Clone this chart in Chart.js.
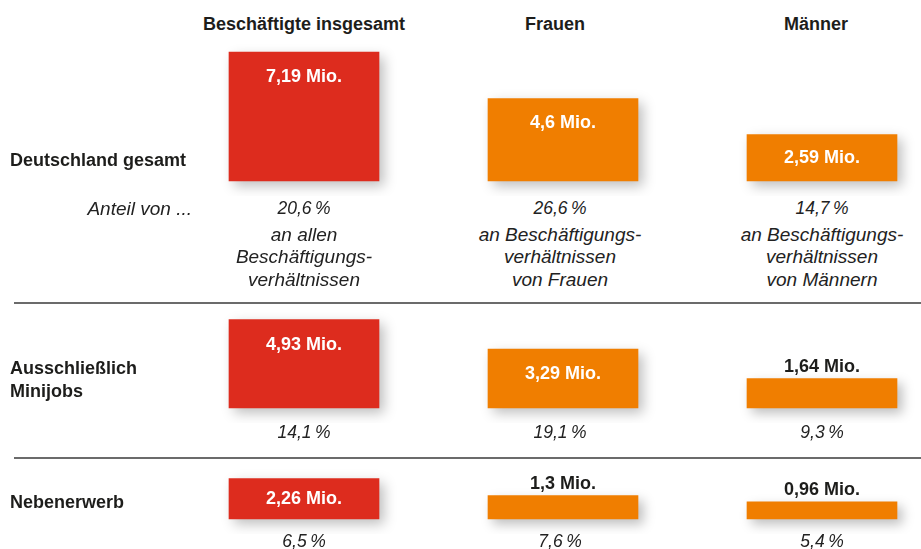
<!DOCTYPE html>
<html lang="de">
<head>
<meta charset="utf-8">
<title>Minijobs in Deutschland</title>
<script src="https://cdn.jsdelivr.net/npm/chart.js@4.4.1/dist/chart.umd.min.js"></script>
<style>
  html, body { margin: 0; padding: 0; background: #fff; overflow: hidden; }
  #page { position: relative; width: 921px; height: 549px; font-family: "Liberation Sans", Arial, sans-serif; color: #1d1d1b; }
  #page canvas { position: absolute; left: 0; }
  .t { position: absolute; white-space: nowrap; line-height: 23px; height: 23px; }
  .b { font-weight: bold; font-size: 18px; }
  .i { font-style: italic; font-size: 17.5px; color: #222; }
  .n { font-style: italic; font-size: 19px; color: #222; }
  .rule { position: absolute; left: 14px; right: 0; height: 2px; background: #6b6b6b; }
</style>
</head>
<body>
<div id="page">
  <canvas id="row0" width="921" height="156"></canvas>
  <canvas id="row1" width="921" height="113"></canvas>
  <canvas id="row2" width="921" height="69"></canvas>
</div>
<script>
// Geringfügige Beschäftigung – values in Mio.
const columns = ['Beschäftigte insgesamt', 'Frauen', 'Männer'];
const rowLabels = [['Deutschland gesamt'], ['Ausschließlich', 'Minijobs'], ['Nebenerwerb']];

const gesamtMio = [7.19, 4.6, 2.59];
const minijobsMio = [4.93, 3.29, 1.64];
const nebenerwerbMio = [2.26, 1.3, 0.96];

// shares in percent
const gesamtShare = [20.6, 26.6, 14.7];
const minijobsShare = [14.1, 19.1, 9.3];
const nebenerwerbShare = [6.5, 7.6, 5.4];

const shareNotes = [
  ['an allen', 'Beschäftigungs-', 'verhältnissen'],
  ['an Beschäftigungs-', 'verhältnissen', 'von Frauen'],
  ['an Beschäftigungs-', 'verhältnissen', 'von Männern']
];
const shareIntro = 'Anteil von ...';

// layout / style
const PX_PER_MIO = 17.94;
const RED = '#DD2C1E';
const ORANGE = '#F07E00';
const barColors = [RED, ORANGE, ORANGE];
const colCenters = [304, 562, 822];
const noteCenters = [304, 560, 822];
const headerCenters = [304, 555, 816];
// canvas top and baseline for each row
const rowBands = [
  { top: 40, base: 181 },
  { top: 310, base: 408 },
  { top: 465, base: 519 }
];
const BOTTOM_PAD = 15;

const page = document.getElementById('page');

function addText(str, x, y, cls, align) {
  const el = document.createElement('div');
  el.className = 't ' + cls;
  el.textContent = str;
  el.style.top = (y - 11.5) + 'px';
  if (align === 'left') {
    el.style.left = x + 'px';
  } else if (align === 'right') {
    el.style.right = (921 - x) + 'px';
  } else {
    el.style.left = x + 'px';
    el.style.transform = 'translateX(-50%)';
  }
  page.appendChild(el);
}

function fmtNum(v) {
  return String(v).replace('.', ',');
}
function fmtShare(v) {
  return fmtNum(v) + '\u202F%';
}

// headers
columns.forEach((c, i) => addText(c, headerCenters[i], 24, 'b', 'center'));

// row labels
addText(rowLabels[0][0], 10, 160, 'b', 'left');
addText(rowLabels[1][0], 10, 368, 'b', 'left');
addText(rowLabels[1][1], 10, 391, 'b', 'left');
addText(rowLabels[2][0], 10, 502, 'b', 'left');

// shares
addText(shareIntro, 192, 208, 'n', 'right');
gesamtShare.forEach((v, i) => {
  addText(fmtShare(v), noteCenters[i], 208, 'i', 'center');
  shareNotes[i].forEach((line, j) => addText(line, noteCenters[i], 234 + j * 22.5, 'n', 'center'));
});
minijobsShare.forEach((v, i) => addText(fmtShare(v), noteCenters[i], 432, 'i', 'center'));
nebenerwerbShare.forEach((v, i) => addText(fmtShare(v), noteCenters[i], 541, 'i', 'center'));

// separator lines
[302, 457].forEach(y => {
  const r = document.createElement('div');
  r.className = 'rule';
  r.style.top = y + 'px';
  page.appendChild(r);
});

// soft drop shadow under the bars
const shadowPlugin = {
  id: 'barShadow',
  beforeDatasetsDraw(chart) {
    const ctx = chart.ctx;
    ctx.save();
    ctx.shadowColor = 'rgba(0,0,0,0.26)';
    ctx.shadowBlur = 12;
    ctx.shadowOffsetX = 5;
    ctx.shadowOffsetY = 5;
  },
  afterDatasetsDraw(chart) {
    chart.ctx.restore();
  }
};

// "x,xx Mio." labels inside or above bars
const valueLabelPlugin = {
  id: 'valueLabels',
  afterDatasetsDraw(chart) {
    const ctx = chart.ctx;
    const meta = chart.getDatasetMeta(0);
    const values = chart.data.datasets[0].data;
    ctx.save();
    ctx.font = 'bold 18px "Liberation Sans", Arial, sans-serif';
    ctx.textAlign = 'center';
    ctx.textBaseline = 'middle';
    meta.data.forEach((bar, i) => {
      const h = bar.base - bar.y;
      const label = fmtNum(values[i]) + ' Mio.';
      if (h >= 40) {
        ctx.fillStyle = '#ffffff';
        ctx.fillText(label, bar.x, bar.y + Math.min(25, h / 2));
      } else {
        ctx.fillStyle = '#1d1d1b';
        ctx.fillText(label, bar.x, bar.y - 12);
      }
    });
    ctx.restore();
  }
};

function makeRow(id, values, band) {
  const canvas = document.getElementById(id);
  const areaH = band.base - band.top;
  canvas.style.top = band.top + 'px';
  return new Chart(canvas, {
    type: 'bar',
    data: {
      labels: columns,
      datasets: [{
        data: values,
        backgroundColor: barColors,
        borderWidth: 0,
        barThickness: 150,
        clip: false
      }]
    },
    options: {
      responsive: false,
      animation: false,
      layout: { padding: { left: colCenters[0], right: 921 - colCenters[2], top: 0, bottom: BOTTOM_PAD } },
      scales: {
        x: { display: false, offset: false },
        y: { display: false, min: 0, max: areaH / PX_PER_MIO }
      },
      plugins: {
        legend: { display: false },
        tooltip: { enabled: false }
      }
    },
    plugins: [shadowPlugin, valueLabelPlugin]
  });
}

makeRow('row0', gesamtMio, rowBands[0]);
makeRow('row1', minijobsMio, rowBands[1]);
makeRow('row2', nebenerwerbMio, rowBands[2]);
</script>
</body>
</html>
